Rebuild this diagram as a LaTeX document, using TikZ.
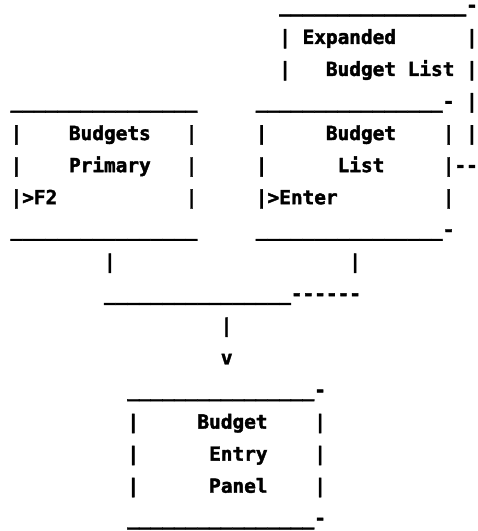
\documentclass[tikz,border=0pt]{standalone}
\usepackage{fontspec}
\setmonofont[BoldFeatures={FakeBold=2}]{DejaVu Sans Mono}
\usepackage{tikz}
\usetikzlibrary{positioning}

\newcommand{\unders}{\_\_\_\_\_\_\_\_\_\_\_\_\_\_\_\_}

\begin{document}
\begin{tikzpicture}[
  x=11.68pt, y=-32.06pt,
  ch/.style={anchor=base west, inner sep=0pt, outer sep=0pt,
    font=\ttfamily\bfseries\fontsize{19.4}{20}\selectfont}
]
\useasboundingbox (-10.6pt,11.8pt) rectangle (467.4pt,-519.2pt);

% expanded budget list (behind)
\node[ch, text height=9pt] (expTop) at (23,0) {\unders-};
\node[ch] (expL1) at (23,1) {|};
\node[ch] (expT1) at (25,1) {Expanded};
\node[ch] (expR1) at (39,1) {|};
\node[ch] (expL2) at (23,2) {|};
\node[ch] (expT2) at (27,2) {Budget List};
\node[ch] (expR2) at (39,2) {|};
\node[ch] (expR3) at (39,3) {|};
\node[ch] (expR4) at (39,4) {|};

% budgets primary
\node[ch] (priTop) at (0,3) {\unders};
\node[ch] (priL1) at (0,4) {|};
\node[ch] (priT1) at (5,4) {Budgets};
\node[ch] (priR1) at (15,4) {|};
\node[ch] (priL2) at (0,5) {|};
\node[ch] (priT2) at (5,5) {Primary};
\node[ch] (priR2) at (15,5) {|};
\node[ch] (priL3) at (0,6) {|>F2};
\node[ch] (priR3) at (15,6) {|};
\node[ch] (priBot) at (0,7) {\unders};

% budget list
\node[ch] (lstTop) at (21,3) {\unders-};
\node[ch] (lstL1) at (21,4) {|};
\node[ch] (lstT1) at (27,4) {Budget};
\node[ch] (lstR1) at (37,4) {|};
\node[ch] (lstL2) at (21,5) {|};
\node[ch] (lstT2) at (28,5) {List};
\node[ch] (lstR2) at (37,5) {|--};
\node[ch] (lstL3) at (21,6) {|>Enter};
\node[ch] (lstR3) at (37,6) {|};
\node[ch] (lstBot) at (21,7) {\unders-};

% joining lines
\node[ch] (priDown) at (8,8) {|};
\node[ch] (lstDown) at (29,8) {|};
\node[ch] (join) at (8,9) {\unders------};
\node[ch] (entDown) at (18,10) {|};
\node[ch] (entTip) at (18,11) {v};

% budget entry panel
\node[ch] (entTop) at (10,12) {\unders-};
\node[ch] (entL1) at (10,13) {|};
\node[ch] (entT1) at (16,13) {Budget};
\node[ch] (entR1) at (26,13) {|};
\node[ch] (entL2) at (10,14) {|};
\node[ch] (entT2) at (17,14) {Entry};
\node[ch] (entR2) at (26,14) {|};
\node[ch] (entL3) at (10,15) {|};
\node[ch] (entT3) at (17,15) {Panel};
\node[ch] (entR3) at (26,15) {|};
\node[ch] (entBot) at (10,16) {\unders-};

\end{tikzpicture}
\end{document}
